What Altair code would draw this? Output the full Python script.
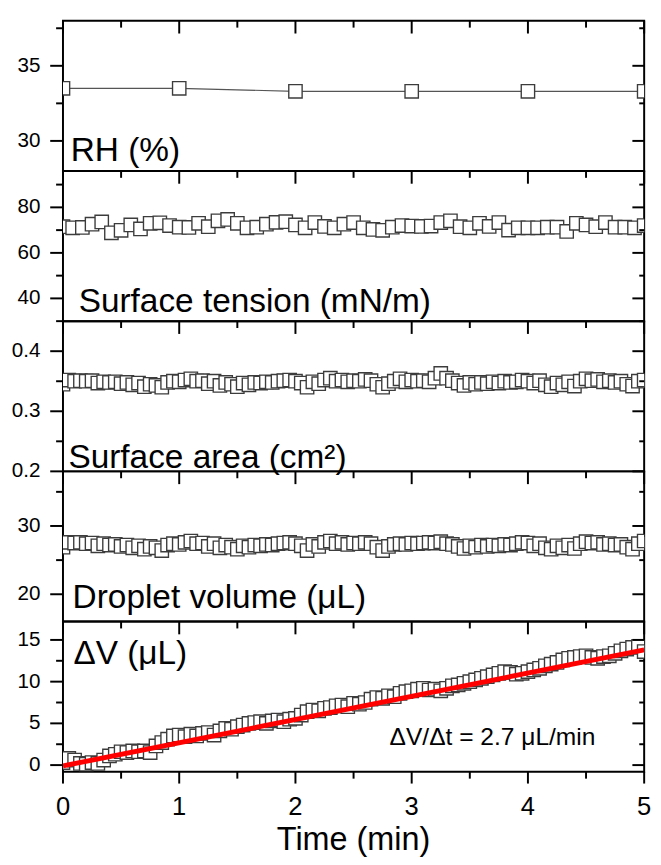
import altair as alt
import pandas as pd

FONT = "Liberation Sans"

# ---------------- data ----------------
rh_time = [0, 1, 2, 3, 4, 5]
rh_values = [33.5, 33.5, 33.3, 33.3, 33.3, 33.3]

st_time = [round(i / 12, 4) for i in range(61)]
st_values = [71.5, 71.0, 71.2, 72.6, 73.6, 68.8, 69.9, 72.3, 70.5, 73.0,
             73.2, 72.0, 71.3, 71.2, 73.0, 71.5, 74.1, 74.7, 73.0, 71.0,
             71.3, 72.6, 73.4, 73.7, 72.3, 71.0, 73.3, 71.6, 71.0, 72.6,
             73.3, 71.0, 70.3, 69.9, 71.3, 72.0, 71.8, 71.6, 71.8, 73.3,
             74.1, 71.5, 71.0, 73.0, 71.6, 73.3, 70.0, 71.0, 71.0, 71.0,
             71.3, 71.3, 69.4, 73.0, 72.3, 71.5, 73.3, 71.3, 71.3, 71.0,
             72.0]

fine_time = [round(i * 0.05, 2) for i in range(101)]
area_values = [0.345, 0.352, 0.350, 0.351, 0.350, 0.351, 0.347, 0.349, 0.348, 0.349,
               0.346, 0.348, 0.344, 0.347, 0.341, 0.345, 0.343, 0.340, 0.348, 0.350,
               0.349, 0.352, 0.354, 0.350, 0.351, 0.346, 0.350, 0.343, 0.348, 0.345,
               0.341, 0.347, 0.344, 0.348, 0.347, 0.349, 0.348, 0.350, 0.351, 0.352,
               0.350, 0.347, 0.340, 0.349, 0.346, 0.352, 0.355, 0.350, 0.352, 0.349,
               0.351, 0.350, 0.353, 0.351, 0.345, 0.340, 0.346, 0.350, 0.354, 0.349,
               0.352, 0.350, 0.351, 0.349, 0.355, 0.363, 0.355, 0.351, 0.347, 0.343,
               0.348, 0.345, 0.348, 0.346, 0.349, 0.347, 0.350, 0.348, 0.349, 0.352,
               0.350, 0.347, 0.351, 0.344, 0.341, 0.347, 0.344, 0.349, 0.342, 0.350,
               0.354, 0.351, 0.353, 0.349, 0.351, 0.348, 0.350, 0.345, 0.342, 0.350,
               0.352]
volume_values = [26.9, 27.6, 27.5, 27.6, 27.4, 27.5, 27.1, 27.4, 27.2, 27.3,
                 27.0, 27.2, 26.8, 27.1, 26.6, 27.0, 26.8, 26.4, 27.2, 27.4,
                 27.3, 27.6, 27.8, 27.4, 27.5, 27.0, 27.4, 26.8, 27.2, 26.9,
                 26.6, 27.1, 26.9, 27.2, 27.1, 27.3, 27.2, 27.4, 27.5, 27.6,
                 27.4, 27.1, 26.4, 27.3, 27.0, 27.6, 27.8, 27.4, 27.6, 27.3,
                 27.5, 27.4, 27.6, 27.4, 26.9, 26.4, 27.0, 27.3, 27.4, 27.3,
                 27.5, 27.4, 27.5, 27.6, 27.5, 27.7, 27.4, 27.3, 27.0, 26.7,
                 27.1, 26.9, 27.2, 27.0, 27.2, 27.1, 27.3, 27.2, 27.4, 27.6,
                 27.5, 27.1, 27.4, 26.8, 26.6, 27.1, 26.8, 27.2, 26.7, 27.4,
                 27.7, 27.5, 27.6, 27.3, 27.4, 27.2, 27.3, 26.9, 26.6, 27.4,
                 27.8]
dv_values = [0.3, 0.8, 0.6, 0.2, 0.1, 0.3, 0.2, 0.6, 1.1, 1.3,
             1.6, 1.5, 1.7, 1.6, 1.7, 1.5, 2.3, 2.7, 3.1, 3.5,
             3.6, 3.4, 3.7, 3.5, 3.8, 3.9, 3.6, 4.1, 4.4, 4.3,
             4.6, 4.8, 5.0, 5.1, 5.2, 5.0, 5.3, 5.4, 5.2, 5.5,
             5.6, 6.0, 6.4, 6.6, 6.5, 6.8, 6.9, 7.1, 7.2, 7.0,
             7.4, 7.3, 7.5, 7.9, 8.1, 8.0, 8.3, 8.2, 8.6, 8.8,
             8.9, 9.1, 9.2, 9.0, 9.1, 8.9, 9.2, 9.5, 9.6, 9.8,
             10.0, 10.2, 10.4, 10.6, 10.8, 11.0, 11.2, 11.1, 10.9, 11.0,
             11.2, 11.4, 11.6, 11.9, 12.1, 12.3, 12.6, 12.8, 12.9, 13.0,
             13.1, 12.9, 12.8, 13.0, 13.1, 13.4, 13.7, 13.9, 14.1, 14.2,
             13.6]
fit_time = [0, 5]
fit_dv = [-0.1, 13.8]

# tick positions and tick labels
x_major = [0, 1, 2, 3, 4, 5]
x_minor = [0.5, 1.5, 2.5, 3.5, 4.5]
x_tick_labels = ["0", "1", "2", "3", "4", "5"]
x_title = ["Time (min)"]

rh_major, rh_minor, rh_labels = [30, 35], [32.5, 37.5], ["30", "35"]
st_major, st_minor, st_labels = [40, 60, 80], [50, 70, 90], ["40", "60", "80"]
ar_major, ar_minor, ar_labels = [0.2, 0.3, 0.4], [0.25, 0.35, 0.45], ["0.2", "0.3", "0.4"]
vo_major, vo_minor, vo_labels = [20, 30], [25, 35], ["20", "30"]
dv_major, dv_minor, dv_labels = [0, 5, 10, 15], [2.5, 7.5, 12.5], ["0", "5", "10", "15"]

panel_labels = ["RH (%)", "Surface tension (mN/m)", "Surface area (cm²)",
                "Droplet volume (μL)", "ΔV (μL)"]
label_t = [0.067, 0.135, 0.047, 0.083, 0.09]
label_y = [28.64, 34.1, 0.2055, 17.94, 12.12]
rate_text = ["ΔV/Δt = 2.7 μL/min"]
rate_t = [2.81]
rate_y = [2.42]

W = 592
H = 153
SQ_STROKE = "#3c3c3c"

xscale = alt.Scale(domain=[0, 5], nice=False, zero=False)


def hticks(values, yscale, x0, x1):
    """Horizontal tick marks at the given y values."""
    return alt.Chart(pd.DataFrame({"v": values})).mark_rule(
        color="black", strokeWidth=2).encode(
        y=alt.Y("v:Q", scale=yscale, axis=None),
        x=alt.value(x0), x2=alt.value(x1))


def vticks(values, y0, y1):
    """Vertical tick marks at the given time values."""
    return alt.Chart(pd.DataFrame({"t": values})).mark_rule(
        color="black", strokeWidth=2).encode(
        x=alt.X("t:Q", scale=xscale, axis=None),
        y=alt.value(y0), y2=alt.value(y1))


def panel(df, ydomain, ymajor, yminor, ylabels, idx, line=False, bottom=False, extra=None):
    yscale = alt.Scale(domain=ydomain, nice=False, zero=False)
    base = alt.Chart(df)
    layers = []
    if line:
        layers.append(base.mark_line(color="#555555", strokeWidth=1.2, clip=True).encode(
            x=alt.X("t:Q", scale=xscale, axis=None),
            y=alt.Y("v:Q", scale=yscale, axis=None)))
    layers.append(base.mark_square(size=185, fill="white", stroke=SQ_STROKE,
                                   strokeWidth=1.4, opacity=1, clip=True).encode(
        x=alt.X("t:Q", scale=xscale, axis=None),
        y=alt.Y("v:Q", scale=yscale, axis=None)))
    # tick marks: left outward, right inward, top inward, bottom outward (last panel)
    layers.append(hticks(ymajor, yscale, -13, 0))
    layers.append(hticks(yminor, yscale, -7, 0))
    layers.append(hticks(ymajor, yscale, W - 12, W))
    layers.append(hticks(yminor, yscale, W - 5, W))
    layers.append(vticks(x_major, 0, 13))
    layers.append(vticks(x_minor, 0, 7))
    # y tick labels
    ylab = pd.DataFrame({"v": ymajor, "lab": ylabels})
    layers.append(alt.Chart(ylab).mark_text(align="right", baseline="middle", font=FONT,
                                           fontSize=21, color="black").encode(
        y=alt.Y("v:Q", scale=yscale, axis=None), x=alt.value(-23), text="lab:N"))
    if bottom:
        layers.append(vticks(x_major, H, H + 12))
        layers.append(vticks(x_minor, H, H + 7))
        xlab = pd.DataFrame({"t": x_major, "lab": x_tick_labels})
        layers.append(alt.Chart(xlab).mark_text(align="center", baseline="middle", font=FONT,
                                               fontSize=26, color="black").encode(
            x=alt.X("t:Q", scale=xscale, axis=None), y=alt.value(H + 36), text="lab:N"))
        ttl = pd.DataFrame({"t": [2.5], "lab": x_title})
        layers.append(alt.Chart(ttl).mark_text(align="center", baseline="middle", font=FONT,
                                              fontSize=33, color="black").encode(
            x=alt.X("t:Q", scale=xscale, axis=None), y=alt.value(H + 70), text="lab:N"))
    if extra is not None:
        layers.extend(extra(yscale))
    lab = pd.DataFrame({"t": [label_t[idx]], "v": [label_y[idx]], "txt": [panel_labels[idx]]})
    layers.append(alt.Chart(lab).mark_text(align="left", baseline="alphabetic", font=FONT,
                                          fontSize=34, color="black").encode(
        x=alt.X("t:Q", scale=xscale, axis=None),
        y=alt.Y("v:Q", scale=yscale, axis=None),
        text="txt:N"))
    return alt.layer(*layers).properties(width=W, height=H)


def dv_extra(yscale):
    fit = pd.DataFrame({"t": fit_time, "v": fit_dv})
    rate = pd.DataFrame({"t": rate_t, "v": rate_y, "txt": rate_text})
    return [
        alt.Chart(fit).mark_line(color="#ff0000", strokeWidth=5, clip=True).encode(
            x=alt.X("t:Q", scale=xscale, axis=None),
            y=alt.Y("v:Q", scale=yscale, axis=None)),
        alt.Chart(rate).mark_text(align="left", baseline="alphabetic", font=FONT,
                                  fontSize=25, color="black").encode(
            x=alt.X("t:Q", scale=xscale, axis=None),
            y=alt.Y("v:Q", scale=yscale, axis=None),
            text="txt:N"),
    ]


df_rh = pd.DataFrame({"t": rh_time, "v": rh_values})
df_st = pd.DataFrame({"t": st_time, "v": st_values})
df_area = pd.DataFrame({"t": fine_time, "v": area_values})
df_vol = pd.DataFrame({"t": fine_time, "v": volume_values})
df_dv = pd.DataFrame({"t": fine_time, "v": dv_values})

p1 = panel(df_rh, [28, 38], rh_major, rh_minor, rh_labels, 0, line=True)
p2 = panel(df_st, [30, 96], st_major, st_minor, st_labels, 1)
p3 = panel(df_area, [0.2, 0.45], ar_major, ar_minor, ar_labels, 2)
p4 = panel(df_vol, [16, 38], vo_major, vo_minor, vo_labels, 3)
p5 = panel(df_dv, [-0.8, 17.2], dv_major, dv_minor, dv_labels, 4,
           bottom=True, extra=dv_extra)

chart = alt.vconcat(p1, p2, p3, p4, p5, spacing=0, bounds="flush").configure_view(
    stroke="black", strokeWidth=2
).properties(padding={"left": 2, "top": 3, "right": 0, "bottom": 0})

chart.save("out.html", embed_options={"renderer": "svg", "actions": False})
